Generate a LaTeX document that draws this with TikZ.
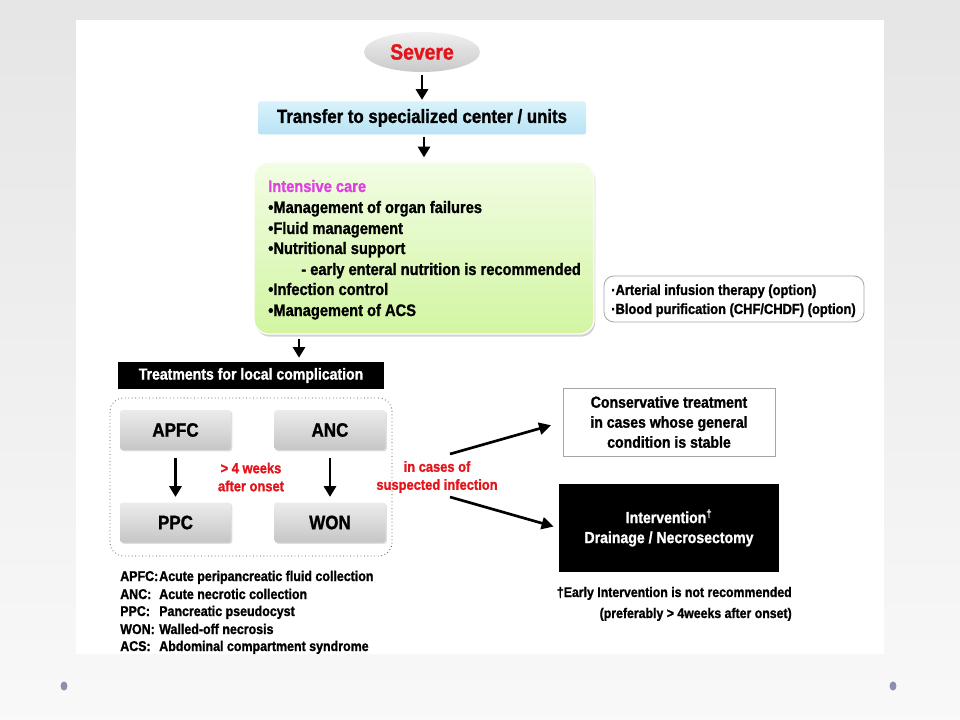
\documentclass[tikz,border=0pt]{standalone}
\usepackage{fontspec}
\setmainfont{Liberation Sans}[UprightFont={* Bold},FakeStretch=0.88,FakeBold=1.2]
\usetikzlibrary{arrows.meta,shadows,shapes.geometric}
\definecolor{dotc}{HTML}{8C90AC}
\definecolor{redt}{HTML}{E3141B}
\definecolor{magt}{HTML}{E040E0}
\definecolor{blueA}{HTML}{D9F2FB}
\definecolor{blueB}{HTML}{B8E3F4}
\definecolor{grnA}{HTML}{F2FDE4}
\definecolor{grnB}{HTML}{D2F5A2}
\newcommand{\fsz}[2]{\fontsize{#1}{#2}\selectfont}
\tikzset{
  arr/.style={line width=2.2pt,-{Triangle[width=9pt,length=8pt]}},
  darr/.style={line width=2pt,-{Triangle[width=9pt,length=9pt]}},
  sevnode/.style={ellipse,minimum width=87pt,minimum height=30pt,top color=gray!12,bottom color=gray!42,text=redt,font=\fsz{16.5}{18}},
  trbox/.style={rectangle,rounded corners=2pt,minimum width=246pt,minimum height=24.75pt,top color=blueA,bottom color=blueB,font=\fsz{14.3}{16}},
  icbox/.style={rectangle,rounded corners=11pt,minimum width=255pt,minimum height=129pt,top color=grnA,bottom color=grnB,draw=white,line width=1pt,drop shadow={opacity=0.35,shadow xshift=1pt,shadow yshift=-2pt}},
  icline/.style={anchor=base west,inner sep=0pt,font=\fsz{12.5}{15}},
  optbox/.style={rectangle,rounded corners=7.5pt,minimum width=195pt,minimum height=34.5pt,draw=gray!70,line width=0.6pt},
  optline/.style={anchor=base west,inner sep=0pt,font=\fsz{11}{12}},
  blk/.style={rectangle,fill=black,text=white,minimum width=199.5pt,minimum height=20.25pt,font=\fsz{12}{14}},
  dotbox/.style={rectangle,rounded corners=10pt,draw=gray!60!black,dotted,line width=0.6pt,minimum width=211.5pt,minimum height=118.5pt},
  gbox/.style={rectangle,rounded corners=2pt,minimum width=83.25pt,minimum height=30pt,top color=gray!15,bottom color=gray!45,font=\fsz{14.5}{18},drop shadow={opacity=0.25,shadow xshift=1pt,shadow yshift=-1pt}},
  redlab/.style={align=center,text=redt,font=\fsz{11}{13.5},inner sep=1pt},
  consbox/.style={rectangle,draw=gray!70,line width=0.6pt,minimum width=159pt,minimum height=51pt,align=center,font=\fsz{12}{15}},
  intbox/.style={rectangle,fill=black,text=white,minimum width=165pt,minimum height=66pt,align=center,font=\fsz{12}{15}},
  fnline/.style={anchor=base east,inner sep=0pt,font=\fsz{10.5}{12}},
  legl/.style={anchor=base west,inner sep=0pt,font=\fsz{10.6}{12}}
}
\begin{document}
\begin{tikzpicture}[x=0.75pt,y=-0.75pt]
\useasboundingbox (0,0) rectangle (960,720);
\shade[top color=gray!20,bottom color=gray!5] (0,0) rectangle (960,720);
\fill[white] (76,20) rectangle (884,654);
\fill[dotc] (64,686) ellipse (2.6pt and 3.4pt);
\fill[dotc] (893,686) ellipse (2.6pt and 3.4pt);

% top chain
\node[sevnode] (sev) at (422,52) {Severe};
\node[trbox] (tr) at (422,118) {Transfer to specialized center / units};
\node[icbox] (ic) at (424,248) {};
\node[icline,text=magt] (ic0) at (268,192) {Intensive care};
\node[icline] (ic1) at (268,213) {•Management of organ failures};
\node[icline] (ic2) at (268,234) {•Fluid management};
\node[icline] (ic3) at (268,254) {•Nutritional support};
\node[icline] (ic4) at (301,275) {- early enteral nutrition is recommended};
\node[icline] (ic5) at (268,295) {•Infection control};
\node[icline] (ic6) at (268,316) {•Management of ACS};

\node[optbox] (opt) at (734,299) {};
\node[optline] (op1) at (611,295) {·Arterial infusion therapy (option)};
\node[optline] (op2) at (611,314) {·Blood purification (CHF/CHDF) (option)};

% local complications
\node[blk] (trt) at (251,375.5) {Treatments for local complication};
\node[dotbox] (loc) at (251,477) {};
\node[gbox] (apfc) at (175.5,430) {APFC};
\node[gbox] (anc) at (330,430) {ANC};
\node[gbox] (ppc) at (175.5,522.5) {PPC};
\node[gbox] (won) at (330,522.5) {WON};
\node[redlab] (wk) at (251,477) {> 4 weeks\\after onset};
\node[redlab] (inf) at (437,477) {in cases of\\suspected infection};

\node[consbox] (cons) at (669,422) {Conservative treatment\\in cases whose general\\condition is stable};
\node[intbox] (int) at (669,528) {Intervention\textsuperscript{†}\\Drainage / Necrosectomy};

\draw[arr,shorten <=2pt,shorten >=1pt] (sev) -- (tr);
\draw[arr,shorten <=2pt,shorten >=3pt] (tr.south -| ic.north) -- (ic.north);
\coordinate (kx) at (299,0);
\draw[arr,shorten <=3pt,shorten >=3pt] (ic.south -| kx) -- (trt.north -| kx);
\draw[arr,shorten <=6pt,shorten >=4pt] (apfc) -- (ppc);
\draw[arr,shorten <=6pt,shorten >=4pt] (anc) -- (won);
\coordinate (i1) at (450,454);
\coordinate (i2) at (450,497);
\draw[darr,shorten >=9pt] (i1) -- (cons.west);
\draw[darr,shorten >=4pt] (i2) -- (int.west);

\node[fnline] (fn1) at (792,597) {†Early Intervention is not recommended};
\node[fnline] (fn2) at (792,618) {(preferably > 4weeks after onset)};

% legend
\node[legl] (l1a) at (120,581) {APFC:};
\node[legl] (l1b) at (159,581) {Acute peripancreatic fluid collection};
\node[legl] (l2a) at (120,599) {ANC:};
\node[legl] (l2b) at (159,599) {Acute necrotic collection};
\node[legl] (l3a) at (120,616) {PPC:};
\node[legl] (l3b) at (159,616) {Pancreatic pseudocyst};
\node[legl] (l4a) at (120,634) {WON:};
\node[legl] (l4b) at (159,634) {Walled-off necrosis};
\node[legl] (l5a) at (120,651) {ACS:};
\node[legl] (l5b) at (159,651) {Abdominal compartment syndrome};
\end{tikzpicture}
\end{document}
